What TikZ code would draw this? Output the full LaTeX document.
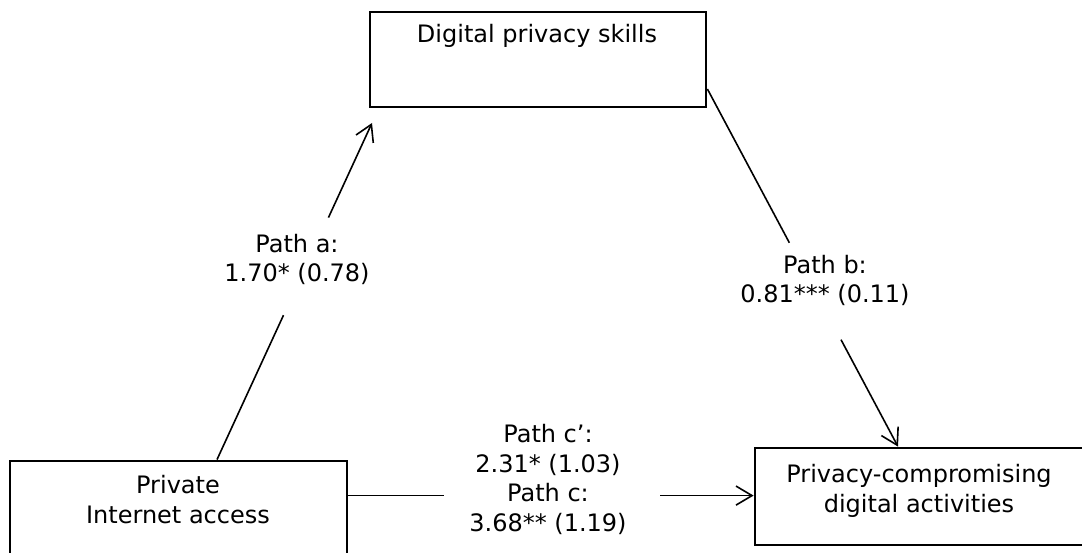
\documentclass[tikz,border=0pt]{standalone}
\usepackage{fontspec}
\setmainfont{DejaVu Sans}
\usetikzlibrary{arrows.meta,calc}
\begin{document}
\begin{tikzpicture}[x=1pt,y=-1pt,
  box/.style={draw,line width=2.8pt,inner sep=0pt},
  lbl/.style={font=\fontsize{24}{29.5}\selectfont,align=center,inner sep=0pt,anchor=base},
  conn/.style={line width=1.6pt},
  tip/.style={-{Straight Barb[length=16pt,width=19pt,line width=1.6pt]}}]
\useasboundingbox (0,0) rectangle (1082,553);
\clip (0,0) rectangle (1082,553);

% boxes
\node[box,minimum width=336pt,minimum height=95pt] (skills) at (538,59.5) {};
\node[box,minimum width=337pt,minimum height=109pt] (access) at (178.5,515.5) {};
\node[box,minimum width=335pt,minimum height=97pt] (dig) at (922.5,496.5) {};

% box texts (base = baseline of the last line)
\node[lbl] (tskills) at (537,43) {Digital privacy skills};
\node[lbl] (taccess) at (178,523) {Private\\Internet access};
\node[lbl] (tdig) at (919,512) {Privacy-compromising\\digital activities};

% path labels
\node[lbl] (la) at (297,282) {Path a:\\1.70* (0.78)};
\node[lbl] (lb) at (825,303) {Path b:\\0.81*** (0.11)};
\node[lbl] (lc) at (548,531) {Path c’:\\2.31* (1.03)\\Path c:\\3.68** (1.19)};

% connector end points
\coordinate (aS) at ([xshift=38.5pt]access.north);
\coordinate (aE) at (372,123);
\coordinate (bS) at ([yshift=-29.5pt]skills.east);
\coordinate (bE) at ([xshift=-24.5pt]dig.north);
\coordinate (cS) at ([yshift=-36pt]access.north east);

% path a
\draw[conn] (aS) -- ($(aS)!0.429!(aE)$);
\draw[conn,tip] ($(aS)!0.719!(aE)$) -- (aE);
% path b
\draw[conn] (bS) -- ($(bS)!0.430!(bE)$);
\draw[conn,tip] ($(bS)!0.701!(bE)$) -- (bE);
% path c
\draw[conn] (cS) -- ($(cS)+(96,0)$);
\draw[conn,tip] ($(cS)+(312,0)$) -- (cS -| dig.west);
\end{tikzpicture}
\end{document}
